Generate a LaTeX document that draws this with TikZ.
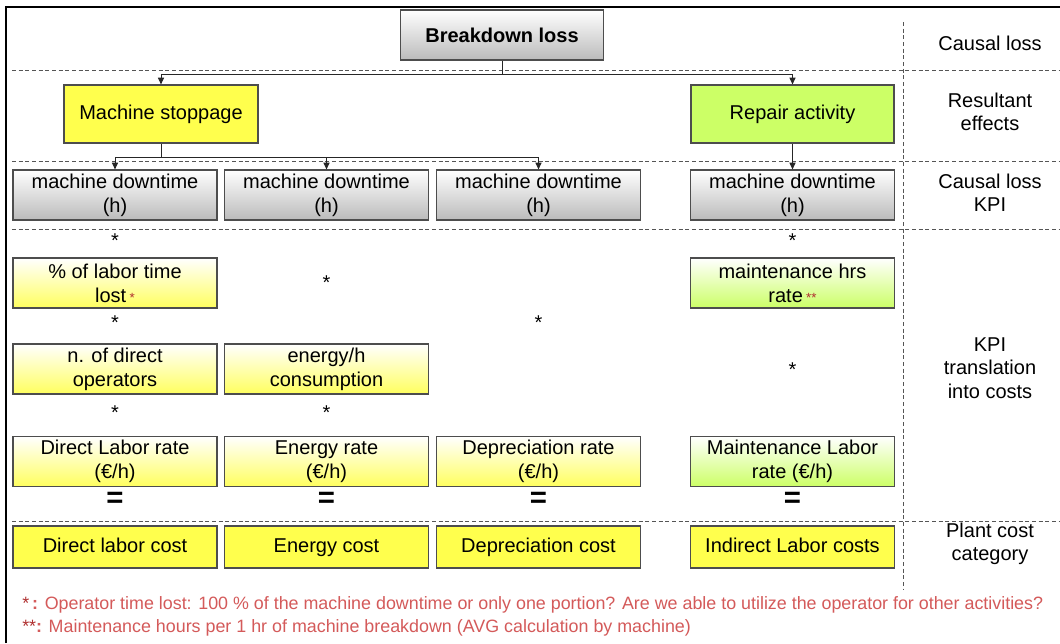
\documentclass[tikz,border=0pt]{standalone}
\usepackage{fontspec}
\setmainfont{Liberation Sans}
\usetikzlibrary{arrows.meta}
\definecolor{boxline}{HTML}{4D4D4D}
\definecolor{ylw}{HTML}{FFFF4D}
\definecolor{ylwg}{HTML}{FFFF5E}
\definecolor{grn}{HTML}{CCFF66}
\definecolor{gry}{HTML}{BBBBBB}
\definecolor{fnred}{HTML}{D45A5A}
\definecolor{dkred}{HTML}{B03030}
\definecolor{dashc}{HTML}{555555}
\begin{document}
\begin{tikzpicture}[x=0.75pt,y=-0.75pt,
  base/.style={draw=boxline,line width=0.9pt,inner sep=0pt,align=center,
    font=\fontsize{15}{18}\selectfont,text=black},
  graybox/.style={base,top color=white,bottom color=gry},
  ygrad/.style={base,top color=white,bottom color=ylwg},
  ggrad/.style={base,top color=white,bottom color=grn},
  ysolid/.style={base,fill=ylw},
  gsolid/.style={base,fill=grn},
  colbox/.style={minimum width=153pt,minimum height=37.5pt},
  costbox/.style={minimum width=153pt,minimum height=31.5pt,text height=10.8pt,text depth=3.2pt},
  mult/.style={font=\fontsize{15}{18}\selectfont,inner sep=0pt,anchor=base},
  eq/.style={font=\bfseries\fontsize{22}{22}\selectfont,inner sep=0pt,text height=8pt,text depth=0pt},
  side/.style={font=\fontsize{15}{17.5}\selectfont,align=center,inner sep=0pt},
  sep/.style={dashc,line width=0.7pt,dash pattern=on 3pt off 2pt},
  conn/.style={draw=black!85,line width=0.7pt},
  arr/.style={conn,-{Triangle[length=5pt,width=4.5pt]}},
  fn/.style={font=\fontsize{13.4}{15}\selectfont,text=fnred,anchor=west,inner sep=0pt}
]
\useasboundingbox (0,0) rectangle (1060,643);
\fill[white] (0,0) rectangle (1060,643);
% frame
\draw[line width=1.6pt] (6,643) -- (6,7) -- (1060,7);
% separators
\draw[sep] (12,70) -- (1060,70);
\draw[sep] (12,161) -- (1060,161);
\draw[sep] (12,229) -- (1060,229);
\draw[sep] (12,521) -- (1060,521);
\draw[sep] (903,22) -- (903,590);

% top
\node[graybox,font=\bfseries\fontsize{15}{18}\selectfont,minimum width=152pt,minimum height=37.5pt] (bl) at (502,35) {Breakdown loss};
\node[ysolid,minimum width=145.5pt,minimum height=43.5pt,text height=10.8pt,text depth=3.2pt] (ms) at (161,114) {Machine stoppage};
\node[gsolid,minimum width=152.25pt,minimum height=43.5pt,text height=10.8pt,text depth=3.2pt] (ra) at (792.5,114) {Repair activity};

% downtime
\node[graybox,colbox] (d1) at (115,195) {machine downtime\\(h)};
\node[graybox,colbox] (d2) at (326.5,195) {machine downtime\\(h)};
\node[graybox,colbox] (d3) at (538.5,195) {machine downtime\\(h)};
\node[graybox,colbox] (d4) at (792.5,195) {machine downtime\\(h)};

% connectors
\coordinate (j1) at (502,74);
\coordinate (j2) at (161,157);
\draw[conn] (bl.south) -- (j1);
\draw[arr] (j1) -| (ms.north);
\draw[arr] (j1) -| (ra.north);
\draw[conn] (ms.south) -- (j2);
\draw[arr] (j2) -| (d1.north);
\draw[arr] (j2) -| (d2.north);
\draw[arr] (j2) -| (d3.north);
\draw[arr] (ra.south) -- (d4.north);

% KPI translation
\node[ygrad,colbox] (p1) at (115,283) {\% of labor time\\lost\,{\fontsize{10}{10}\selectfont\textcolor{dkred}{*}}};
\node[ggrad,colbox] (m4) at (792.5,283) {maintenance hrs\\rate\,{\fontsize{10}{10}\selectfont\textcolor{dkred}{**}}};
\node[ygrad,colbox] (n1) at (115,369) {n. of direct\\operators};
\node[ygrad,colbox] (e2) at (326.5,369) {energy/h\\consumption};
\node[ygrad,colbox] (r1) at (115,461.5) {Direct Labor rate\\(€/h)};
\node[ygrad,colbox] (r2) at (326.5,461.5) {Energy rate\\(€/h)};
\node[ygrad,colbox] (r3) at (538.5,461.5) {Depreciation rate\\(€/h)};
\node[ggrad,colbox] (r4) at (792.5,461.5) {Maintenance Labor\\rate (€/h)};

% multiplication signs
\node[mult] (s1) at (115,247) {*};
\node[mult] (s2) at (792.5,247) {*};
\node[mult] (s3) at (326.5,289) {*};
\node[mult] (s4) at (115,329) {*};
\node[mult] (s5) at (538.5,329) {*};
\node[mult] (s6) at (792.5,376) {*};
\node[mult] (s7) at (115,419) {*};
\node[mult] (s8) at (326.5,419) {*};

% equals
\node[eq] (q1) at (115,502) {=};
\node[eq] (q2) at (326.5,502) {=};
\node[eq] (q3) at (538.5,502) {=};
\node[eq] (q4) at (792.5,502) {=};

% costs
\node[ysolid,costbox] (c1) at (115,547) {Direct labor cost};
\node[ysolid,costbox] (c2) at (326.5,547) {Energy cost};
\node[ysolid,costbox] (c3) at (538.5,547) {Depreciation cost};
\node[ysolid,costbox] (c4) at (792.5,547) {Indirect Labor costs};

% side labels
\node[side] (l1) at (990,43) {Causal loss};
\node[side] (l2) at (990,112) {Resultant\\effects};
\node[side] (l3) at (990,193) {Causal loss\\KPI};
\node[side] (l4) at (990,368) {KPI\\translation\\into costs};
\node[side] (l5) at (990,544) {Plant cost\\category};

% footnotes
\node[fn] (f1) at (22,605) {\textcolor{dkred}{*}\,{\bfseries :} Operator time lost: 100 \% of the machine downtime or only one portion? Are we able to utilize the operator for other activities?};
\node[fn] (f2) at (22,628) {\textcolor{dkred}{**}{\bfseries :} Maintenance hours per 1 hr of machine breakdown (AVG calculation by machine)};
\end{tikzpicture}
\end{document}
